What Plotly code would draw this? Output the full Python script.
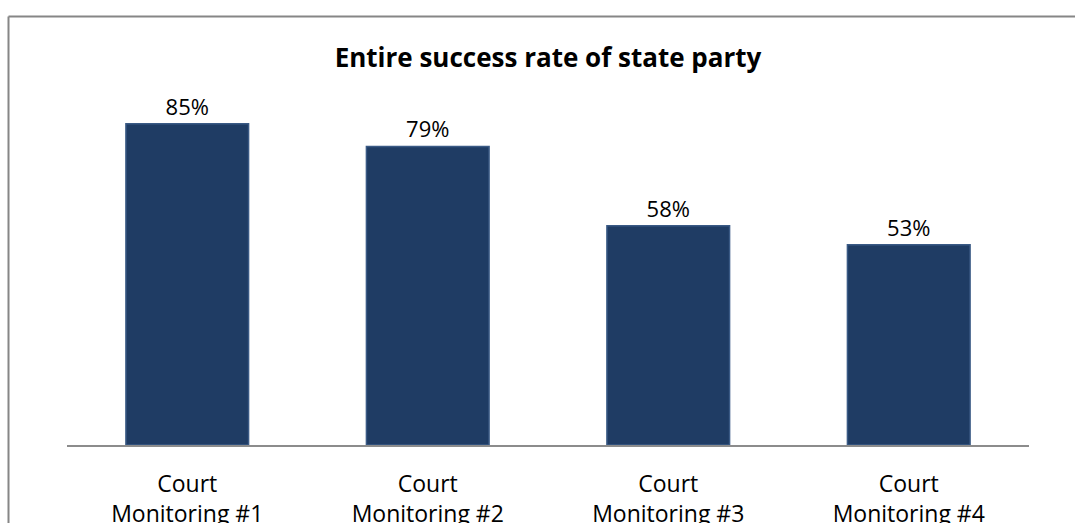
import plotly.graph_objects as go

categories = ["Court<br>Monitoring #1", "Court<br>Monitoring #2", "Court<br>Monitoring #3", "Court<br>Monitoring #4"]
values = [0.85, 0.79, 0.58, 0.53]
labels = ["85%", "79%", "58%", "53%"]
title = "Entire success rate of state party"

W, H = 1075, 523
L, R, T, B = 67, 46, 67, 78
pw, ph = W - L - R, H - T - B

def px_x(x):
    return (x - L) / pw

def px_y(y):
    return (H - B - y) / ph

FONT = "Open Sans, sans-serif"

fig = go.Figure()
fig.add_trace(go.Bar(
    x=categories, y=values, text=labels, textposition="outside",
    textfont=dict(size=22, color="#000000", family=FONT),
    marker=dict(color="#1F3C64", line=dict(color="#3A5A85", width=1.5)),
    width=0.51, cliponaxis=False, hoverinfo="skip",
))

fig.update_layout(
    width=W, height=H,
    margin=dict(l=L, r=R, t=T, b=B, autoexpand=False),
    paper_bgcolor="white", plot_bgcolor="white",
    showlegend=False,
    font=dict(family=FONT, color="#000000"),
    title=dict(text="<b>" + title + "</b>", xref="paper", x=0.5, xanchor="center",
               y=1 - 58 / H, yanchor="middle",
               font=dict(size=26, family=FONT, color="#000000")),
    xaxis=dict(showgrid=False, zeroline=False, showline=True, linecolor="#8C8C8C", linewidth=2,
               ticks="outside", ticklen=17, tickcolor="rgba(0,0,0,0)", automargin=False,
               tickfont=dict(size=23, family=FONT, color="#000000"), fixedrange=True),
    yaxis=dict(range=[0, 1], visible=False, fixedrange=True, automargin=False),
    shapes=[
        dict(type="line", xref="paper", yref="paper", x0=px_x(8.5), x1=px_x(W + 5), y0=px_y(16.5), y1=px_y(16.5),
             line=dict(color="#868686", width=2)),
        dict(type="line", xref="paper", yref="paper", x0=px_x(8.5), x1=px_x(8.5), y0=px_y(16.5), y1=px_y(H + 5),
             line=dict(color="#868686", width=2)),
    ],
)

fig.write_html("out.html")
